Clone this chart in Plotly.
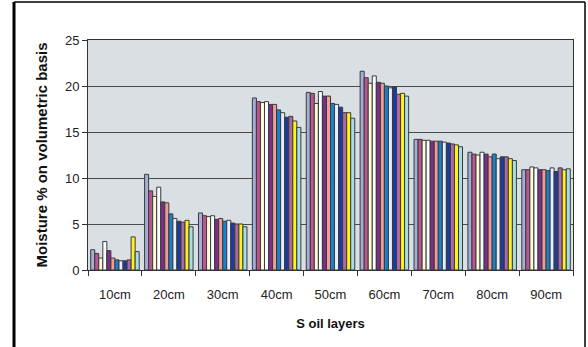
import plotly.graph_objects as go

# Soil depth layers on the category axis
layers = ["10cm", "20cm", "30cm", "40cm", "50cm", "60cm", "70cm", "80cm", "90cm"]

# Moisture % (volumetric) for each of the 12 measurement series, per layer
s1 = [2.2, 10.4, 6.2, 18.7, 19.3, 21.6, 14.2, 12.8, 10.9]
s2 = [1.8, 8.6, 5.9, 18.3, 19.2, 20.9, 14.2, 12.6, 10.9]
s3 = [1.3, 8.0, 5.8, 18.2, 18.1, 20.3, 14.1, 12.5, 11.2]
s4 = [3.1, 9.0, 5.9, 18.3, 19.4, 21.1, 14.1, 12.8, 11.1]
s5 = [2.1, 7.4, 5.5, 18.0, 18.9, 20.4, 14.0, 12.6, 10.9]
s6 = [1.3, 7.3, 5.6, 18.0, 18.9, 20.3, 14.0, 12.3, 10.9]
s7 = [1.1, 6.1, 5.3, 17.4, 18.1, 20.0, 14.0, 12.6, 10.8]
s8 = [1.0, 5.6, 5.4, 17.1, 18.0, 19.8, 13.9, 12.1, 11.1]
s9 = [1.0, 5.3, 5.1, 16.6, 17.7, 19.9, 13.8, 12.3, 10.7]
s10 = [1.1, 5.2, 5.0, 16.7, 17.1, 19.1, 13.7, 12.3, 11.1]
s11 = [3.6, 5.4, 5.0, 16.2, 17.1, 19.2, 13.6, 12.1, 10.9]
s12 = [2.0, 4.7, 4.7, 15.5, 16.5, 18.9, 13.4, 11.9, 11.0]

series = [s1, s2, s3, s4, s5, s6, s7, s8, s9, s10, s11, s12]
names = ["Series %d" % (i + 1) for i in range(12)]
colors = ["#A4AED8", "#BC5590", "#FFFBD6", "#F6FEFF", "#7A2E8A", "#F09A9A",
          "#1A80C8", "#E6EEFF", "#1C3C9C", "#A86AA8", "#FFF020", "#A8DDE6"]

fig = go.Figure()
for name, vals, col in zip(names, series, colors):
    fig.add_trace(go.Bar(
        x=layers, y=vals, name=name,
        marker=dict(color=col, line=dict(color="#3A3A3A", width=1)),
    ))

axis_font = dict(family="Liberation Sans, Arial, sans-serif", size=13, color="#222222")
xtitle_font = dict(family="Liberation Sans, Arial, sans-serif", size=13, color="#111111")
ytitle_font = dict(family="Liberation Sans, Arial, sans-serif", size=15, color="#111111")

fig.update_layout(
    width=588, height=347,
    margin=dict(l=88, r=15, t=40, b=77),
    paper_bgcolor="white",
    plot_bgcolor="#DADFE3",
    barmode="group",
    bargap=0.1,
    bargroupgap=0,
    showlegend=False,
    xaxis=dict(
        title=dict(text="<b>S oil layers</b>", font=xtitle_font, standoff=18),
        tickfont=axis_font,
        ticklabelstandoff=12,
        showline=True, linecolor="#333333", linewidth=1, mirror=True,
        ticks="outside", ticklen=5, tickcolor="#333333",
        tickson="boundaries",
        showgrid=False,
    ),
    yaxis=dict(
        title=dict(text="<b>Moisture % on volumetric basis</b>", font=ytitle_font, standoff=13),
        tickfont=axis_font,
        range=[0, 25], dtick=5,
        showline=True, linecolor="#333333", linewidth=1, mirror=True,
        ticks="outside", ticklen=5, tickcolor="#333333",
        showgrid=True, gridcolor="#4A4A4A", gridwidth=1,
        zeroline=False,
    ),
)

# Outer chart frame
pw, ph = 485.0, 230.0
def px(x):
    return (x - 88) / pw
def py(y):
    return (270 - y) / ph

frame = [
    (px(14), py(2), px(14), py(360), 3),
    (px(14), py(2), px(585), py(2), 1.5),
    (px(585), py(2), px(585), py(360), 1.5),
]
for x0, y0, x1, y1, w in frame:
    fig.add_shape(type="line", xref="paper", yref="paper",
                  x0=x0, y0=y0, x1=x1, y1=y1,
                  line=dict(color="black", width=w))

fig.write_html("out.html")
